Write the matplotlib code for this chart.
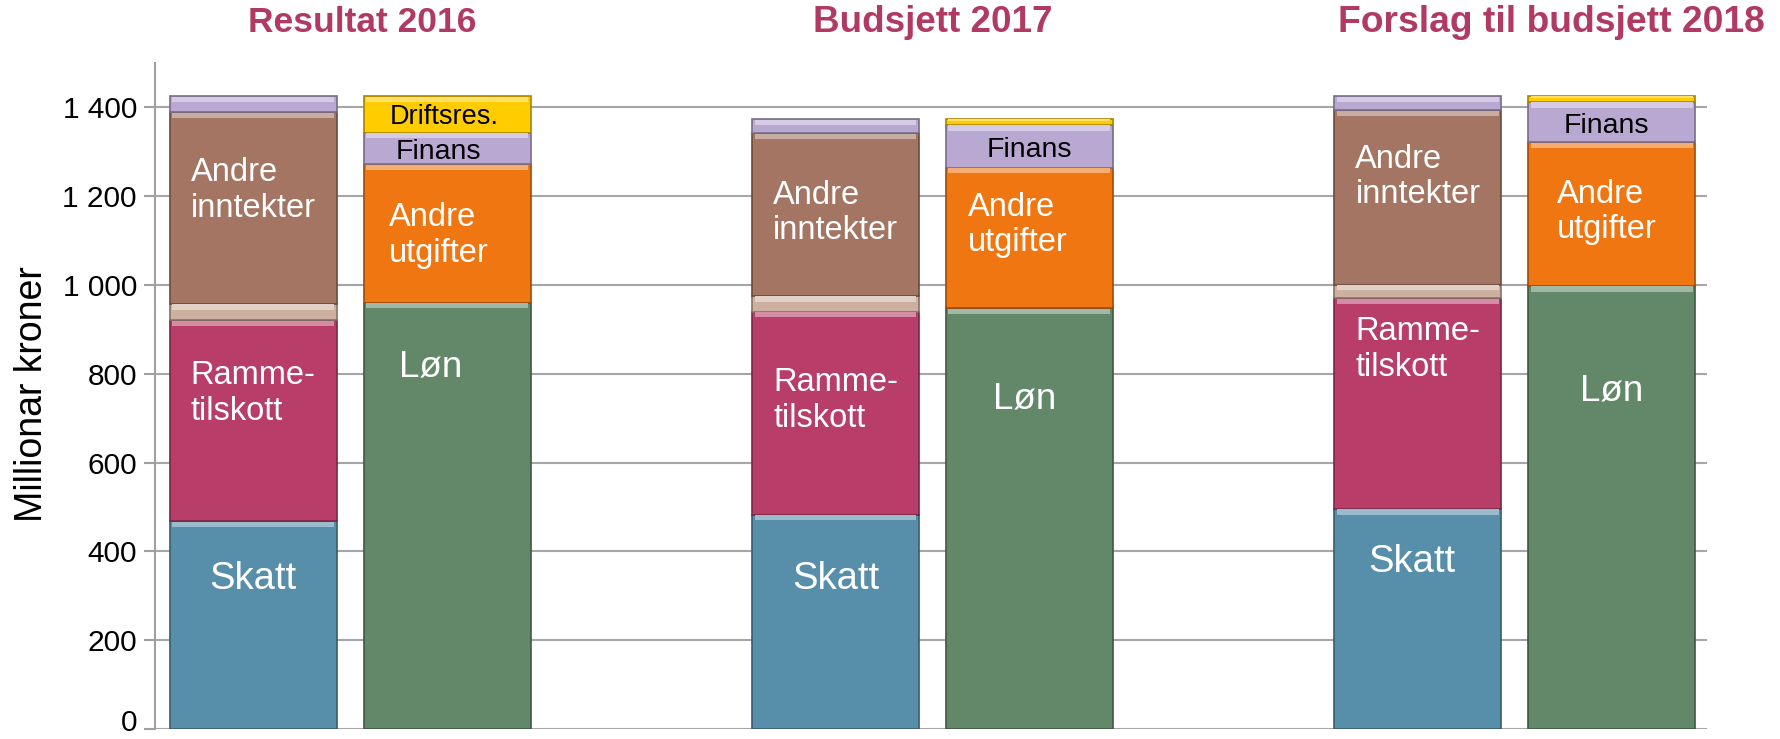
import numpy as np
import matplotlib.pyplot as plt
from matplotlib.colors import to_rgb
from matplotlib.ticker import FuncFormatter

plt.rcParams['font.family'] = ['Liberation Sans', 'DejaVu Sans']

groups = ["Resultat 2016", "Budsjett 2017", "Forslag til budsjett 2018"]

# inntekter (millionar kroner)
skatt = [468, 483, 496]
rammetilskott = [452, 457, 474]
overforingar = [37, 35, 30]
andre_inntekter = [432, 366, 393]
finans_inn = [36, 32, 32]

# utgifter
lon = [960, 947, 998]
andre_utgifter = [312, 317, 323]
finans_utg = [71, 96, 91]
driftsres = [82, 14, 14]

income = [("Skatt", skatt, "#578EAA"),
          ("Ramme-\ntilskott", rammetilskott, "#B83D69"),
          ("", overforingar, "#CDB0A0"),
          ("Andre\ninntekter", andre_inntekter, "#A37562"),
          ("", finans_inn, "#B9A8D2")]
expense = [("Løn", lon, "#638869"),
           ("Andre\nutgifter", andre_utgifter, "#F07612"),
           ("Finans", finans_utg, "#B9A8D2"),
           ("Driftsres.", driftsres, "#FFCC00")]

# label positions (data units) per group: (dx, y)
label_pos = {
    "Skatt": [(0, 337), (0, 337), (-0.01, 375)],
    "Ramme-\ntilskott": [(0, 755), (0, 739), (0, 854)],
    "Andre\ninntekter": [(0, 1213), (0, 1162), (0, 1243)],
    "Løn": [(-0.028, 816), (-0.008, 742), (0, 760)],
    "Andre\nutgifter": [(-0.014, 1112), (-0.02, 1135), (-0.008, 1164)],
    "Finans": [(-0.015, 1299), (0, 1303), (-0.01, 1358)],
    "Driftsres.": [(-0.005, 1378), None, None],
}
label_style = {
    "Skatt": (27.5, "white"), "Ramme-\ntilskott": (23.5, "white"),
    "Andre\ninntekter": (23.5, "white"), "Løn": (26.5, "white"),
    "Andre\nutgifter": (23.5, "white"), "Finans": (20.5, "black"),
    "Driftsres.": (19.5, "black"),
}


def shade(c, f):
    r = np.array(to_rgb(c))
    if f < 1:
        return tuple(r * f)
    return tuple(r + (1 - r) * (f - 1))


def stack(ax, xpos, parts, width):
    bottom = np.zeros(len(xpos))
    for name, vals, col in parts:
        vals = np.array(vals, dtype=float)
        ax.bar(xpos, vals, width, bottom=bottom, color=col,
               edgecolor=shade(col, 0.65), linewidth=1.2, zorder=3)
        hl = np.minimum(12, vals * 0.35)
        ax.bar(xpos, hl, width * 0.97, bottom=bottom + vals - hl - 1,
               color=shade(col, 1.4), linewidth=0, zorder=3.5)
        if name:
            size, tc = label_style[name]
            for i, p in enumerate(label_pos[name]):
                if p is None:
                    continue
                ax.text(xpos[i] + p[0], p[1], name, ha='center', va='center',
                        multialignment='left', fontsize=size, color=tc,
                        zorder=5)
        bottom += vals


fig = plt.figure(figsize=(17.81, 7.39), dpi=100)
ax = fig.add_axes([0.087, 0.0135, 0.8715, 0.9015])

x = np.arange(len(groups))
w = 0.2867
off = 0.1665
stack(ax, x - off, income, w)
stack(ax, x + off, expense, w)

ax.set_xlim(-0.335, 2.33)
ax.set_ylim(0, 1500)
ax.set_yticks(range(0, 1401, 200))
# "0" is drawn by hand a little higher so it stays inside the figure
ax.yaxis.set_major_formatter(
    FuncFormatter(lambda v, p: "" if v == 0 else f"{int(v):,}".replace(",", " ")))
ax.tick_params(axis='y', labelsize=21.5, length=8, width=1.5, color='#A0A0A0', pad=5)
ax.annotate("0", xy=(0, 0), xycoords=('axes fraction', 'data'),
            xytext=(-13, 4), textcoords='offset points', ha='right',
            va='center', fontsize=21.5)
ax.set_xticks([])
ax.yaxis.grid(True, color='#A6A6A6', linewidth=1.5, zorder=0)
ax.set_axisbelow(True)
for s in ['top', 'right', 'bottom']:
    ax.spines[s].set_visible(False)
ax.spines['left'].set_color('#A0A0A0')
ax.spines['left'].set_linewidth(1.5)
fig.text(0.018, 0.467, "Millionar kroner", rotation=90, ha='center',
         va='center', fontsize=27)

title_x = [0.2033, 0.5239, 0.871]
title_size = [25.5, 26.5, 26.8]
for t, tx, ts in zip(groups, title_x, title_size):
    fig.text(tx, 0.969, t, ha='center', va='center', fontsize=ts,
             fontweight='bold', color='#B03A62')

fig.savefig("out.png", dpi=100)
